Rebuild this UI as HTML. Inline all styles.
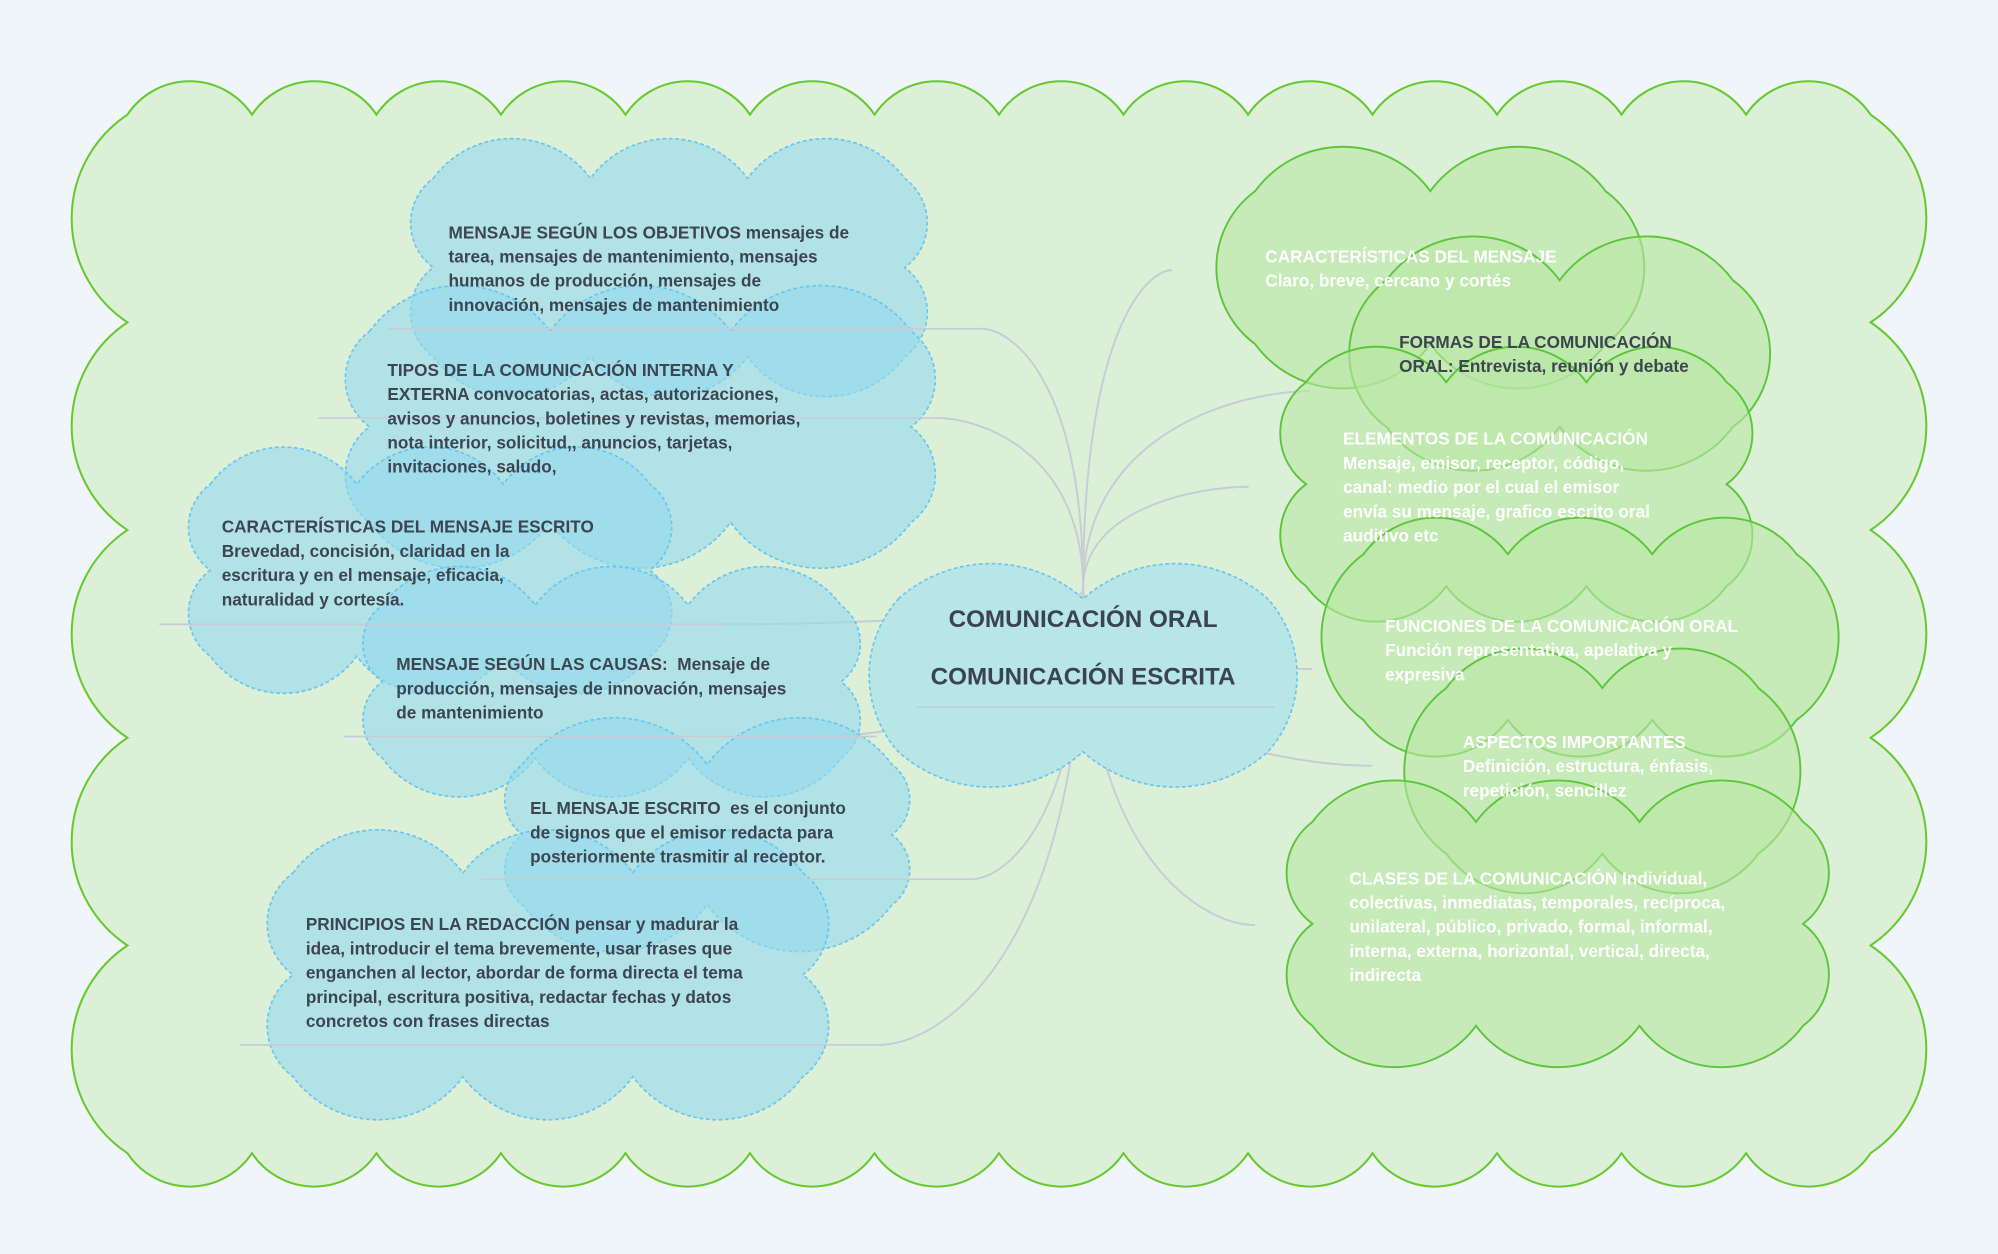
<!DOCTYPE html>
<html><head><meta charset="utf-8">
<style>
html,body{margin:0;padding:0;background:#eff5f8;}
#wrap{position:absolute;left:0;top:0;width:1568px;height:984px;transform:scale(1.27423);transform-origin:0 0;overflow:hidden;}
svg{position:absolute;left:0;top:0;}
.t{position:absolute;font-family:"Liberation Sans",sans-serif;font-weight:bold;font-size:13.5px;line-height:19px;color:#3d4550;white-space:nowrap;}
.w{color:#fff;}
.title{position:absolute;font-family:"Liberation Sans",sans-serif;font-weight:bold;font-size:19px;color:#3a4350;width:340px;text-align:center;}
</style></head><body>
<div id="wrap">
<svg id="s" width="1568" height="984" viewBox="0 0 1568 984"></svg>
<div class="t" style="left:352px;top:173px">MENSAJE SEGÚN LOS OBJETIVOS mensajes de<br>tarea, mensajes de mantenimiento, mensajes<br>humanos de producción, mensajes de<br>innovación, mensajes de mantenimiento</div>
<div class="t" style="left:304px;top:281px">TIPOS DE LA COMUNICACIÓN INTERNA Y<br>EXTERNA convocatorias, actas, autorizaciones,<br>avisos y anuncios, boletines y revistas, memorias,<br>nota interior, solicitud,, anuncios, tarjetas,<br>invitaciones, saludo,</div>
<div class="t" style="left:174px;top:404px">CARACTERÍSTICAS DEL MENSAJE ESCRITO<br>Brevedad, concisión, claridad en la<br>escritura y en el mensaje, eficacia,<br>naturalidad y cortesía.</div>
<div class="t" style="left:311px;top:512px">MENSAJE SEGÚN LAS CAUSAS:&nbsp; Mensaje de<br>producción, mensajes de innovación, mensajes<br>de mantenimiento</div>
<div class="t" style="left:416px;top:625px">EL MENSAJE ESCRITO&nbsp; es el conjunto<br>de signos que el emisor redacta para<br>posteriormente trasmitir al receptor.</div>
<div class="t" style="left:240px;top:716px">PRINCIPIOS EN LA REDACCIÓN pensar y madurar la<br>idea, introducir el tema brevemente, usar frases que<br>enganchen al lector, abordar de forma directa el tema<br>principal, escritura positiva, redactar fechas y datos<br>concretos con frases directas</div>
<div class="title" style="left:680px;top:476px">COMUNICACIÓN ORAL</div>
<div class="title" style="left:680px;top:521px">COMUNICACIÓN ESCRITA</div>
<div class="t w" style="left:993px;top:192px">CARACTERÍSTICAS DEL MENSAJE<br>Claro, breve, cercano y cortés</div>
<div class="t" style="left:1098px;top:259px">FORMAS DE LA COMUNICACIÓN<br>ORAL: Entrevista, reunión y debate</div>
<div class="t w" style="left:1054px;top:335px">ELEMENTOS DE LA COMUNICACIÓN<br>Mensaje, emisor, receptor, código,<br>canal: medio por el cual el emisor<br>envía su mensaje, grafico escrito oral<br>auditivo etc</div>
<div class="t w" style="left:1087px;top:482px">FUNCIONES DE LA COMUNICACIÓN ORAL<br>Función representativa, apelativa y<br>expresiva</div>
<div class="t w" style="left:1148px;top:573px">ASPECTOS IMPORTANTES<br>Definición, estructura, énfasis,<br>repetición, sencillez</div>
<div class="t w" style="left:1059px;top:680px">CLASES DE LA COMUNICACIÓN Individual,<br>colectivas, inmediatas, temporales, recíproca,<br>unilateral, público, privado, formal, informal,<br>interna, externa, horizontal, vertical, directa,<br>indirecta</div>
</div>
<script>
var s=document.getElementById('s'),NS='http://www.w3.org/2000/svg';
function el(n,a){var e=document.createElementNS(NS,n);for(var k in a)e.setAttribute(k,a[k]);s.appendChild(e);return e;}
function cloud(x,y,w,h,nx,ny,f){f=f||0.62;var pts=[],i;
for(i=0;i<nx;i++)pts.push([x+w*i/nx,y]);
for(i=0;i<ny;i++)pts.push([x+w,y+h*i/ny]);
for(i=0;i<nx;i++)pts.push([x+w-w*i/nx,y+h]);
for(i=0;i<ny;i++)pts.push([x,y+h-h*i/ny]);
var d='M'+pts[0][0]+','+pts[0][1];
for(i=1;i<=pts.length;i++){var p=pts[i%pts.length],q=pts[i-1];var c=Math.hypot(p[0]-q[0],p[1]-q[1]);var r=c*f;d+=' A'+r+','+r+' 0 0 1 '+p[0]+','+p[1];}
return d+'Z';}
el('path',{d:cloud(100,90,1368,815,14,5,0.6),fill:'#dcf0d8',stroke:'#66c92e','stroke-width':1.6});
var cx=850,cy=462;
var ends=[[770,258],[735,328],[568,490],[640,578],[762,690],[690,820],[920,212],[1028,307],[980,382],[1077,601],[985,726],[1030,525]];
ends.forEach(function(e){el('path',{d:'M'+cx+','+cy+' C'+cx+','+(e[1]+(cy-e[1])*0.2)+' '+(e[0]+(cx-e[0])*0.3)+','+e[1]+' '+e[0]+','+e[1],fill:'none',stroke:'#c8ccd6','stroke-width':1.5});});
var B='rgba(150,218,238,0.62)';
[[340,140,370,140,3,2],[290,260,425,150,3,2],[165,380,345,135,3,2],[300,475,360,120,3,2],[410,600,290,110,2,2],[230,685,400,160,3,2]].forEach(function(c){el('path',{d:cloud(c[0],c[1],c[2],c[3],c[4],c[5]),fill:B,stroke:'#6ac6f0','stroke-width':1.3,'stroke-dasharray':'3,2'});});
[[305,258,770],[250,328,735],[125,490,568],[270,578,688],[378,690,762],[188,820,690]].forEach(function(u){el('line',{x1:u[0],y1:u[1],x2:u[2],y2:u[1],stroke:'#c8ccd6','stroke-width':1.3});});
el('path',{d:cloud(705,470,290,120,2,1,0.75),fill:'#b8e5e6',stroke:'#6ac6f0','stroke-width':1.3,'stroke-dasharray':'3,2'});
el('line',{x1:720,y1:555,x2:1000,y2:555,stroke:'#c8ccd6','stroke-width':1.2});
var G='rgba(185,230,165,0.6)';
[[985,150,275,120,2,1],[1088,220,272,115,2,1],[1025,300,330,160,3,2],[1070,435,340,130,3,1],[1135,540,245,130,2,1],[1030,645,385,160,3,2]].forEach(function(c){el('path',{d:cloud(c[0],c[1],c[2],c[3],c[4],c[5]),fill:G,stroke:'#5cc63a','stroke-width':1.5});});
</script>
</body></html>
